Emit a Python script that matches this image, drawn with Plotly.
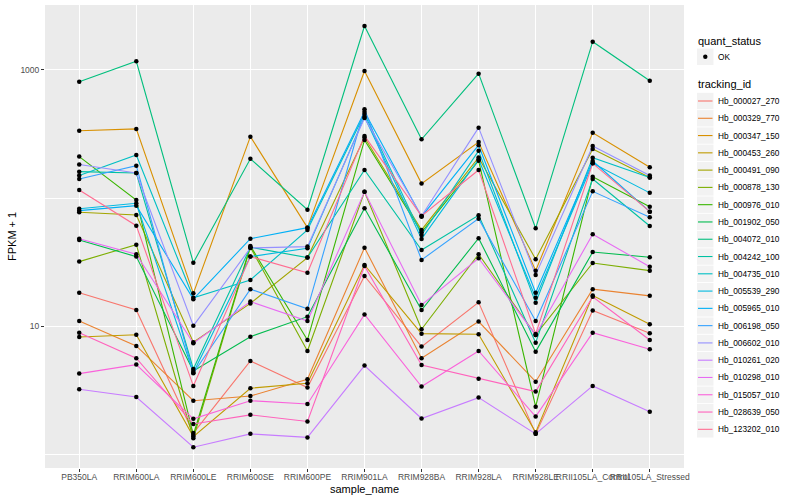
import plotly.graph_objects as go

samples = ["PB350LA", "RRIM600LA", "RRIM600LE", "RRIM600SE", "RRIM600PE", "RRIM901LA",
           "RRIM928BA", "RRIM928LA", "RRIM928LE", "RRII105LA_Control", "RRII105LA_Stressed"]

tracking_ids = ["Hb_000027_270", "Hb_000329_770", "Hb_000347_150", "Hb_000453_260", "Hb_000491_090",
                "Hb_000878_130", "Hb_000976_010", "Hb_001902_050", "Hb_004072_010", "Hb_004242_100",
                "Hb_004735_010", "Hb_005539_290", "Hb_005965_010", "Hb_006198_050", "Hb_006602_010",
                "Hb_010261_020", "Hb_010298_010", "Hb_015057_010", "Hb_028639_050", "Hb_123202_010"]

colors = ["#F8766D", "#EA8331", "#D89000", "#C09B00", "#A3A500", "#7CAE00", "#39B600", "#00BB4E",
          "#00BF7D", "#00C1A3", "#00BFC4", "#00BAE0", "#00B0F6", "#35A2FF", "#9590FF", "#C77CFF",
          "#E76BF3", "#FA62DB", "#FF62BC", "#FF6C91"]

# FPKM + 1 values, one list per tracking_id (same order as samples)
fpkm = {
    "Hb_000027_270": [18.3, 13.4, 1.47, 5.37, 3.33, 24.7, 6.95, 15.4, 1.45, 13.3, 8.83],
    "Hb_000329_770": [11.0, 7.03, 2.63, 2.86, 3.87, 41.1, 5.64, 10.9, 3.70, 19.5, 17.3],
    "Hb_000347_150": [336, 347, 18.1, 302, 58.9, 982, 130, 274, 27.2, 324, 174],
    "Hb_000453_260": [8.27, 8.61, 1.38, 3.29, 3.60, 30.1, 8.77, 8.67, 1.49, 17.4, 10.4],
    "Hb_000491_090": [77.6, 73.9, 7.52, 15.1, 34.4, 297, 56.5, 208, 33.4, 242, 145],
    "Hb_000878_130": [32.0, 43.4, 1.34, 41.4, 6.43, 112, 9.49, 36.5, 8.57, 31.2, 27.2],
    "Hb_000976_010": [211, 96.8, 1.42, 42.4, 7.83, 284, 54.2, 196, 2.36, 147, 85.8],
    "Hb_001902_050": [47.2, 35.0, 4.49, 8.31, 11.9, 83.4, 13.4, 48.7, 6.35, 38.0, 34.6],
    "Hb_004072_010": [810, 1170, 31.4, 203, 81.3, 2205, 288, 936, 58.2, 1662, 825],
    "Hb_004242_100": [161, 157, 4.65, 41.4, 34.4, 166, 39.4, 73.6, 7.46, 141, 60.7],
    "Hb_004735_010": [150, 217, 16.7, 23.0, 56.5, 454, 51.6, 234, 15.3, 207, 145],
    "Hb_005539_290": [82.8, 91.2, 4.35, 35.0, 40.6, 432, 48.1, 201, 16.7, 187, 110],
    "Hb_005965_010": [79.9, 87.4, 16.3, 48.3, 58.9, 473, 71.7, 259, 18.3, 195, 78.5],
    "Hb_006198_050": [141, 179, 4.31, 19.5, 13.7, 494, 33.0, 69.2, 11.0, 113, 71.0],
    "Hb_006602_010": [183, 157, 10.1, 40.9, 41.9, 422, 72.6, 355, 25.2, 255, 150],
    "Hb_010261_020": [3.23, 2.81, 1.14, 1.45, 1.36, 4.94, 1.91, 2.78, 1.45, 3.43, 2.16],
    "Hb_010298_010": [48.3, 36.5, 7.38, 15.6, 11.0, 112, 14.7, 34.0, 8.57, 52.3, 29.2],
    "Hb_015057_010": [4.28, 5.03, 1.90, 2.63, 2.48, 12.4, 3.39, 6.43, 1.98, 8.93, 6.63],
    "Hb_028639_050": [8.93, 5.64, 1.73, 2.04, 1.81, 29.6, 5.00, 3.91, 3.10, 17.0, 7.83],
    "Hb_123202_010": [116, 61.0, 3.43, 35.0, 26.2, 306, 72.6, 166, 8.73, 187, 78.5],
}

quant_status = ["OK"]

FONT = "Liberation Sans, Arial, sans-serif"
W, H = 800, 500
ML, MR, MT, MB = 45, 116, 5, 32
PW, PH = W - ML - MR, H - MT - MB


def px(xp):
    return (xp - ML) / PW


def py(yp):
    return (H - MB - yp) / PH


fig = go.Figure()

for i, tid in enumerate(tracking_ids):
    fig.add_trace(go.Scatter(
        x=samples, y=fpkm[tid], mode="lines", name=tid,
        line=dict(color=colors[i], width=1.1),
        showlegend=False, hoverinfo="x+y+name"))

all_x, all_y = [], []
for tid in tracking_ids:
    all_x += samples
    all_y += fpkm[tid]
fig.add_trace(go.Scatter(
    x=all_x, y=all_y, mode="markers", name=quant_status[0],
    marker=dict(color="black", size=4.5), showlegend=False))

shapes = []
annotations = []

# axis titles
annotations.append(dict(text="sample_name", x=px(364.5), y=py(489), xref="paper", yref="paper",
                        xanchor="center", yanchor="middle", showarrow=False,
                        font=dict(size=11, color="black", family=FONT)))
annotations.append(dict(text="FPKM + 1", x=px(12), y=py(237), xref="paper", yref="paper",
                        xanchor="center", yanchor="middle", showarrow=False, textangle=-90,
                        font=dict(size=11, color="black", family=FONT)))

# legend: quant_status
LX = 697
annotations.append(dict(text="quant_status", x=px(LX - 1), y=py(40.7), xref="paper", yref="paper",
                        xanchor="left", yanchor="middle", showarrow=False,
                        font=dict(size=11, color="black", family=FONT)))
shapes.append(dict(type="rect", xref="paper", yref="paper", x0=px(LX), x1=px(LX + 16.5),
                   y0=py(48.5), y1=py(65), fillcolor="#F2F2F2", line=dict(width=0), layer="above"))
shapes.append(dict(type="circle", xref="paper", yref="paper", x0=px(705.3 - 2.2), x1=px(705.3 + 2.2),
                   y0=py(56.7 - 2.2), y1=py(56.7 + 2.2), fillcolor="black", line=dict(width=0), layer="above"))
annotations.append(dict(text=quant_status[0], x=px(716), y=py(56.7), xref="paper", yref="paper",
                        xanchor="left", yanchor="middle", showarrow=False,
                        font=dict(size=8.3, color="black", family=FONT)))

# legend: tracking_id
annotations.append(dict(text="tracking_id", x=px(LX - 1), y=py(84.3), xref="paper", yref="paper",
                        xanchor="left", yanchor="middle", showarrow=False,
                        font=dict(size=11, color="black", family=FONT)))
for i, tid in enumerate(tracking_ids):
    cy = 101 + i * 17.28
    shapes.append(dict(type="rect", xref="paper", yref="paper", x0=px(LX), x1=px(LX + 16.5),
                       y0=py(cy + 8.2), y1=py(cy - 8.2), fillcolor="#F2F2F2", line=dict(width=0),
                       layer="above"))
    shapes.append(dict(type="line", xref="paper", yref="paper", x0=px(LX + 1), x1=px(LX + 15.5),
                       y0=py(cy), y1=py(cy), line=dict(color=colors[i], width=1.1), layer="above"))
    annotations.append(dict(text=tid, x=px(716), y=py(cy), xref="paper", yref="paper",
                            xanchor="left", yanchor="middle", showarrow=False,
                            font=dict(size=8.3, color="black", family=FONT)))

fig.update_layout(
    width=W, height=H,
    margin=dict(l=ML, r=MR, t=MT, b=MB, autoexpand=False),
    paper_bgcolor="white", plot_bgcolor="#EBEBEB",
    font=dict(family=FONT, size=8.5, color="#4D4D4D"),
    showlegend=False,
    shapes=shapes, annotations=annotations,
    xaxis=dict(
        type="category", categoryorder="array", categoryarray=samples,
        range=[-0.6, 10.6], showgrid=True, gridcolor="white", gridwidth=1.1,
        ticks="outside", ticklen=3, tickcolor="#333333", tickwidth=1, tickangle=0,
        ticklabelstandoff=-2,
        tickfont=dict(size=8.5, color="#4D4D4D", family=FONT), automargin=False,
        zeroline=False, showline=False),
    yaxis=dict(
        type="log", range=[-0.105, 3.507],
        tickvals=[10, 1000], ticktext=["10", "1000"],
        showgrid=True, gridcolor="white", gridwidth=1.1,
        minor=dict(tickvals=[1, 100, 10000], showgrid=True, gridcolor="white", gridwidth=0.5, ticks=""),
        ticks="outside", ticklen=3, tickcolor="#333333", tickwidth=1,
        tickfont=dict(size=8.5, color="#4D4D4D", family=FONT), automargin=False,
        zeroline=False, showline=False),
)

fig.write_html("out.html", config={"displayModeBar": False},
               post_script="document.body.style.margin='0';document.body.style.overflow='hidden';")
